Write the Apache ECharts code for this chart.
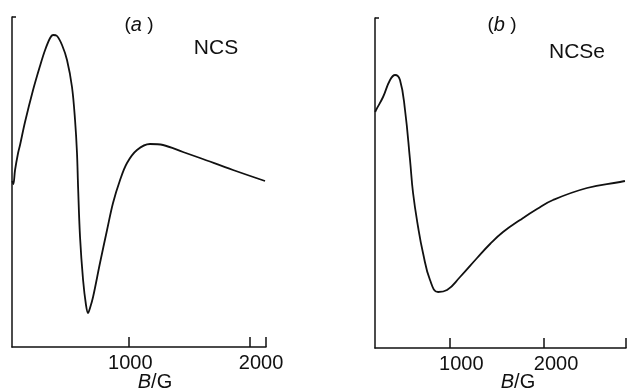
<!DOCTYPE html>
<html><head><meta charset="utf-8">
<script src="https://cdn.jsdelivr.net/npm/echarts@6/dist/echarts.min.js"></script>
<style>html,body{margin:0;padding:0;background:#fff}#c{width:627px;height:392px}</style>
</head><body><div id="c"></div>
<script>
// Panel (a) NCS: field B (G) and signal (arbitrary units)
const bA = [46, 55, 69, 94, 110, 151, 217, 274, 316, 357, 381, 414, 455, 496, 537, 562, 578, 587, 603, 628, 652, 669, 685, 710, 767, 825, 874, 932, 989, 1071, 1178, 1285, 1449, 1589, 1860, 2123];
const sA = [166, 163, 177, 194, 202, 225, 257, 281, 297, 309, 312, 311, 302, 287, 260, 227, 194, 160, 110, 67, 42, 34, 39, 50, 84, 117, 144, 167, 184, 197, 203, 202, 195, 189, 177, 166];
// Panel (b) NCSe
const bB = [218, 226, 300, 374, 427, 479, 532, 585, 617, 670, 722, 796, 881, 976, 1113, 1293, 1430, 1567, 1747, 1926, 2095, 2454, 2803, 2855];
const sB = [236, 238, 251, 268, 273, 268, 238, 188, 155, 121, 95, 68, 56, 58, 71, 90, 104, 116, 128, 139, 148, 160, 166, 167];
const ticksA = [1000, 2000];
const ticksB = [1000, 2000];
const rangeA = [44, 2131];
const rangeB = [215, 2866];
const yMax = 330;

const zip = (xs, ys) => xs.map((x, i) => [x, ys[i]]);
const font = '"Liberation Sans", Arial, sans-serif';
const axisLine = {show: true, lineStyle: {color: '#111', width: 1.5}};
function xAx(idx, range, ticks, pads) {
  return {
    type: 'value', gridIndex: idx, min: range[0], max: range[1],
    axisLine: axisLine, splitLine: {show: false},
    axisTick: {show: true, inside: true, length: 10, lineStyle: {color: '#111', width: 1.5}, customValues: ticks.concat([range[1]])},
    axisLabel: {show: true, customValues: ticks, margin: 6, color: '#111', fontFamily: font, fontSize: 20,
      formatter: (v) => '{p' + ticks.indexOf(v) + '|' + v + '}',
      rich: {p0: {padding: [0, 0, 0, pads[0]], fontSize: 20, fontFamily: font, color: '#111'},
             p1: {padding: [0, 0, 0, pads[1]], fontSize: 20, fontFamily: font, color: '#111'}}}
  };
}
function yAx(idx) {
  return {
    type: 'value', gridIndex: idx, min: 0, max: yMax,
    axisLine: axisLine, splitLine: {show: false},
    axisTick: {show: true, inside: true, length: 4, lineStyle: {color: '#111', width: 1.5}, customValues: [yMax]},
    axisLabel: {show: false}
  };
}
const chart = echarts.init(document.getElementById('c'), null, {renderer: 'canvas'});
const txt = (x, y, text, size, rich) => ({type: 'text', x: x, y: y,
  style: {text: text, fill: '#111', font: size + 'px ' + font, align: 'center', verticalAlign: 'middle', rich: rich || {}}});
const ital = {i: {fontStyle: 'italic', fontSize: 20, fontFamily: font, fill: '#111', color: '#111'}};
chart.setOption({
  animation: false,
  grid: [
    {left: 12, top: 17, width: 254, height: 330},
    {left: 375, top: 18, width: 251, height: 330}
  ],
  xAxis: [xAx(0, rangeA, ticksA, [4, 22]), xAx(1, rangeB, ticksB, [24, 24])],
  yAxis: [yAx(0), yAx(1)],
  series: [
    {type: 'line', xAxisIndex: 0, yAxisIndex: 0, data: zip(bA, sA), smooth: 0.35, symbol: 'none',
      lineStyle: {color: '#111', width: 1.8}},
    {type: 'line', xAxisIndex: 1, yAxisIndex: 1, data: zip(bB, sB), smooth: 0.45, symbol: 'none',
      lineStyle: {color: '#111', width: 1.8}}
  ],
  graphic: [
    txt(139, 25, '({i|a} )', 19, ital),
    txt(216, 48, 'NCS', 21),
    txt(502, 25, '({i|b} )', 19, ital),
    txt(577, 52, 'NCSe', 21),
    txt(155, 382, '{i|B}/G', 20, ital),
    txt(518, 382, '{i|B}/G', 20, ital)
  ]
});
</script></body></html>
